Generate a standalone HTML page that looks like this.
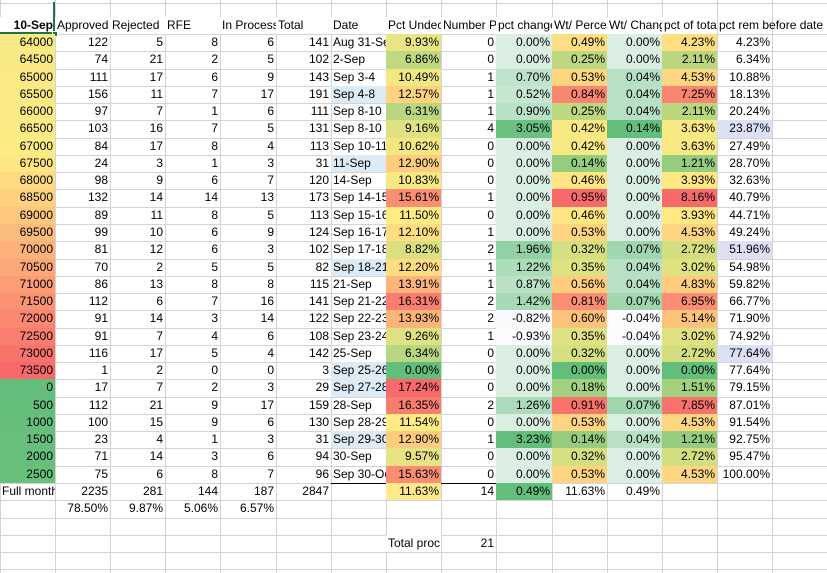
<!DOCTYPE html>
<html><head><meta charset="utf-8">
<style>
body{margin:0;background:#fff;}
#sheet{position:relative;width:827px;height:573px;overflow:hidden;background:#fff;font-family:"Liberation Sans",Arial,sans-serif;font-size:12px;color:#000;}
.c{position:absolute;box-sizing:border-box;overflow:hidden;white-space:nowrap;line-height:17px;padding:0 2px;}
.r{text-align:right;}
.gl{position:absolute;background:#d4d4d4;}
</style></head>
<body>
<div id="sheet"></div>
<script>
const cats=[64000,64500,65000,65500,66000,66500,67000,67500,68000,68500,69000,69500,70000,70500,71000,71500,72000,72500,73000,73500,0,500,1000,1500,2000,2500];
const approved=[122,74,111,156,97,103,84,24,98,132,89,99,81,70,86,112,91,91,116,1,17,112,100,23,71,75];
const rejected=[5,21,17,11,7,16,17,3,9,14,11,10,12,2,13,6,14,7,17,2,7,21,15,4,14,6];
const rfe=[8,2,6,7,1,7,8,1,6,14,8,6,6,5,8,7,3,4,5,0,2,9,9,1,3,8];
const inProcess=[6,5,9,17,6,5,4,3,7,13,5,9,3,5,8,16,14,6,4,0,3,17,6,3,6,7];
const totals=[141,102,143,191,111,131,113,31,120,173,113,124,102,82,115,141,122,108,142,3,29,159,130,31,94,96];
const dates=["Aug 31-Sep 1","2-Sep","Sep 3-4","Sep 4-8","Sep 8-10","Sep 8-10","Sep 10-11","11-Sep","14-Sep","Sep 14-15","Sep 15-16","Sep 16-17","Sep 17-18","Sep 18-21","21-Sep","Sep 21-22","Sep 22-23","Sep 23-24","25-Sep","Sep 25-26","Sep 27-28","28-Sep","Sep 28-29","Sep 29-30","30-Sep","Sep 30-Oct 1"];
const pctUndec=[9.93,6.86,10.49,12.57,6.31,9.16,10.62,12.90,10.83,15.61,11.50,12.10,8.82,12.20,13.91,16.31,13.93,9.26,6.34,0.00,17.24,16.35,11.54,12.90,9.57,15.63];
const numberP=[0,0,1,1,1,4,0,0,0,1,0,1,2,1,1,2,2,1,0,0,0,2,0,1,0,0];
const pctChange=[0,0,0.70,0.52,0.90,3.05,0,0,0,0,0,0,1.96,1.22,0.87,1.42,-0.82,-0.93,0,0,0,1.26,0,3.23,0,0];
const wtPerce=[0.49,0.25,0.53,0.84,0.25,0.42,0.42,0.14,0.46,0.95,0.46,0.53,0.32,0.35,0.56,0.81,0.60,0.35,0.32,0,0.18,0.91,0.53,0.14,0.32,0.53];
const wtChange=[0,0,0.04,0.04,0.04,0.14,0,0,0,0,0,0,0.07,0.04,0.04,0.07,-0.04,-0.04,0,0,0,0.07,0,0.04,0,0];
const pctTotal=[4.23,2.11,4.53,7.25,2.11,3.63,3.63,1.21,3.93,8.16,3.93,4.53,2.72,3.02,4.83,6.95,5.14,3.02,2.72,0,1.51,7.85,4.53,1.21,2.72,4.53];
const pctRem=[4.23,6.34,10.88,18.13,20.24,23.87,27.49,28.70,32.63,40.79,44.71,49.24,51.96,54.98,59.82,66.77,71.90,74.92,77.64,77.64,79.15,87.01,91.54,92.75,95.47,100.00];
const headers=["10-Sep","Approved","Rejected","RFE","In Process","Total","Date","Pct Undecided","Number P","pct change","Wt/ Percent","Wt/ Change","pct of total","pct rem before date"];
const fullMonth=["Full month","2235","281","144","187","2847","","11.63%","14","0.49%","11.63%","0.49%"];
const shares=["","78.50%","9.87%","5.06%","6.57%"];
const blueDates=[3,7,13,19,20,23];
const bluePct=[5,12,18];

const X=[0,55,110,165,220,276,331,386,441,496,552,607,662,717,772,827];
const HT=34,RH=17.27;
const sheet=document.getElementById('sheet');
const rowTop=i=>HT+i*RH;
const G=[99,190,123],Y=[255,235,132],R=[248,105,107],W=[252,252,255];
function mix(a,b,t){return 'rgb('+a.map((v,i)=>Math.round(v+(b[i]-v)*t)).join(',')+')';}
function median(a){const s=[...a].sort((x,y)=>x-y);const n=s.length;return n%2?s[(n-1)/2]:(s[n/2-1]+s[n/2])/2;}
function scale3(arr){const mn=Math.min(...arr),mx=Math.max(...arr),md=median(arr);
 return v=>v<=md?mix(G,Y,md===mn?1:(v-mn)/(md-mn)):mix(Y,R,mx===md?0:(v-md)/(mx-md));}
function scale2(arr){const mn=Math.min(...arr),mx=Math.max(...arr);return v=>mix(W,G,(v-mn)/(mx-mn));}

function cell(col,row,text,cls,bg,name,top,h,extraW){
 const d=document.createElement('div');
 d.className='c '+(cls||'');
 d.style.left=X[col]+'px';
 d.style.width=(X[col+1]-X[col]+(extraW||0))+'px';
 d.style.top=(top!==undefined?top:rowTop(row))+'px';
 d.style.height=(h||RH)+'px';
 if(bg)d.style.background=bg;
 d.textContent=text;
 
 
 sheet.appendChild(d);return d;
}
// gridlines
for(let i=0;i<X.length;i++){const g=document.createElement('div');g.className='gl';g.style.left=X[i]+'px';g.style.top='0px';g.style.width='1px';g.style.height='573px';sheet.appendChild(g);}
const hl=[3,HT];for(let i=1;i<32;i++)hl.push(rowTop(i));
hl.forEach(y=>{const g=document.createElement('div');g.className='gl';g.style.left='0px';g.style.top=Math.round(y)+'px';g.style.width='827px';g.style.height='1px';sheet.appendChild(g);});

// header
headers.forEach((t,i)=>{const d=cell(i,0,t,i===0?'r':'',i===13?null:'#fff','header-'+t.toLowerCase().replace(/[^a-z0-9]+/g,'-'),17,17,i===13?55:0);
 if(i===0){d.style.fontWeight='bold';}
 if(i===13){d.style.background='transparent';}
});
const sel=document.createElement('div');sel.style.cssText='position:absolute;left:0;top:2px;width:55px;height:32px;border:2px solid #217346;box-sizing:border-box;border-top:none;border-left:none;';
sheet.appendChild(sel);
const hd=document.createElement('div');hd.style.cssText='position:absolute;left:52px;top:31px;width:6px;height:6px;background:#217346;border:1px solid #fff;box-sizing:border-box;';
sheet.appendChild(hd);

const sA=scale3(cats),sH=scale3(pctUndec),sK=scale3(wtPerce),sM=scale3(pctTotal),sJ=scale2(pctChange),sL=scale2(wtChange);
const p=v=>v.toFixed(2)+'%';
cats.forEach((c,i)=>{
 cell(0,i,String(c),'r',sA(c),'bin-'+c);
 cell(1,i,approved[i],'r',null,'approved-cell');
 cell(2,i,rejected[i],'r',null,'rejected-cell');
 cell(3,i,rfe[i],'r',null,'rfe-cell');
 cell(4,i,inProcess[i],'r',null,'in-process-cell');
 cell(5,i,totals[i],'r',null,'total-cell');
 cell(6,i,dates[i],'',blueDates.includes(i)?'#ddebf7':null,'date-cell');
 cell(7,i,p(pctUndec[i]),'r',sH(pctUndec[i]),'pct-undecided-cell');
 cell(8,i,numberP[i],'r',null,'number-p-cell');
 cell(9,i,p(pctChange[i]),'r',sJ(pctChange[i]),'pct-change-cell');
 cell(10,i,p(wtPerce[i]),'r',sK(wtPerce[i]),'wt-percent-cell');
 cell(11,i,p(wtChange[i]),'r',sL(wtChange[i]),'wt-change-cell');
 cell(12,i,p(pctTotal[i]),'r',sM(pctTotal[i]),'pct-of-total-cell');
 cell(13,i,p(pctRem[i]),'r',bluePct.includes(i)?'#dce0f2':null,'pct-remaining-cell');
});
// black border under last row G..J
const bl=document.createElement('div');bl.style.cssText='position:absolute;left:331px;width:221px;height:1px;background:#000;top:'+Math.round(rowTop(26))+'px';
sheet.appendChild(bl);
fullMonth.forEach((t,i)=>{if(t==='')return;
 const bg=i===7?'#ffe98a':(i===9?'#63be7b':null);
 cell(i,26,t,i===0?'':'r',bg,i===0?'full-month-label':'full-month-cell');
});
shares.forEach((t,i)=>{if(t)cell(i,27,t,'r',null,'share-cell');});
cell(7,29,'Total proc','', '#fff','total-processed-label');
cell(8,29,'21','r',null,'total-processed-value');
</script>
</body></html>
